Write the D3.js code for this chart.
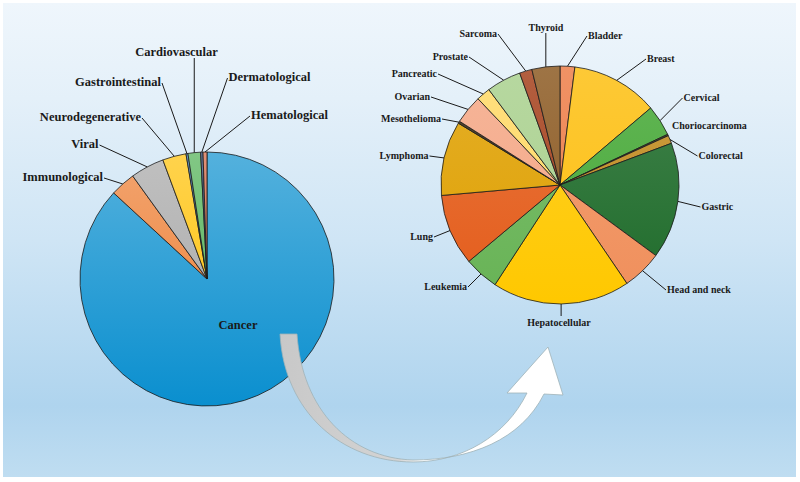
<!DOCTYPE html>
<html>
<head>
<meta charset="utf-8">
<title>Disease pies</title>
<script src="https://cdn.jsdelivr.net/npm/d3@7"></script>
<style>
  body { margin: 0; background: #fff; }
  text { font-family: "Liberation Serif", "DejaVu Serif", serif; font-weight: bold; fill: #1a1a1a; }
</style>
</head>
<body>
<svg width="800" height="482"></svg>
<script>
// left pie: disease areas
var leftNames = ["Cancer", "Immunological", "Viral", "Neurodegenerative", "Gastrointestinal",
                 "Cardiovascular", "Dermatological", "Hematological"];
var leftValues = [86.9, 3.2, 4.3, 3.0, 0.25, 1.6, 0.3, 0.5];
var leftColors = ["#0a8fcf", "#ed7d31", "#a5a5a5", "#ffc000", "#2e75b6", "#4caf50", "#264478", "#d2603a"];

// right pie: cancer types
var rightNames = ["Bladder", "Breast", "Cervical", "Choriocarcinoma", "Colorectal", "Gastric",
                  "Head and neck", "Hepatocellular", "Leukemia", "Lung", "Lymphoma", "Mesothelioma",
                  "Ovarian", "Pancreatic", "Prostate", "Sarcoma", "Thyroid"];
var rightValues = [2.0, 11.8, 4.2, 0.2, 1.1, 15.8, 5.4, 18.7, 4.7, 9.7, 10.1, 0.3, 3.9, 1.9, 4.7, 1.7, 3.8];
var rightColors = ["#ed7d48", "#fdbf10", "#45a836", "#3b3b1a", "#c08a1e", "#1e6b2a", "#f08f5b",
                   "#ffc800", "#67b355", "#e45c1a", "#dfa000", "#3a2a10", "#f4a785", "#ffd966",
                   "#a9d08e", "#a5401c", "#8c5a22"];

// label layout (offset from pie centre, text anchor)
var leftLabelPos = [[31,50,"inside"], [-104,-98,"end"], [-108.5,-131,"end"], [-66,-158,"end"],
                    [-46,-193,"end"], [-30.5,-223,"middle"], [21.5,-198,"start"], [44,-160,"start"]];
var rightLabelPos = [[28,-146,"start"], [87,-123,"start"], [123.5,-84,"start"], [112,-56,"none"],
                     [138.5,-26,"start"], [141.5,25,"start"], [107,108,"start"], [-1,141,"middle"],
                     [-93,105,"end"], [-127,55,"end"], [-131.5,-26,"end"], [-119,-63,"end"],
                     [-130,-85,"end"], [-123,-108,"end"], [-92,-125,"end"], [-63,-148,"end"],
                     [-14,-154,"middle"]];

var svg = d3.select("svg"),
    W = +svg.attr("width"), H = +svg.attr("height");
var defs = svg.append("defs");

// background panel
var bg = defs.append("linearGradient").attr("id","bg")
    .attr("x1",0).attr("y1",0).attr("x2",0).attr("y2",1);
[[0,"#eff6fc"],[0.2,"#e4f0f9"],[0.5,"#cfe5f5"],[0.85,"#afd4ee"],[1,"#bfddf1"]].forEach(s=>{
  bg.append("stop").attr("offset",s[0]).attr("stop-color",s[1]);
});
svg.append("rect").attr("width",W).attr("height",H).attr("fill","#fff");
svg.append("rect").attr("x",3).attr("y",3).attr("width",W-7).attr("height",H-8).attr("fill","url(#bg)");

function drawPie(id, cx, cy, r, names, values, colors, layout, fontSize, tint){
  var data = names.map((n,i)=>({name:n, v:values[i], color:colors[i], pos:layout[i]}));
  var pie = d3.pie().sort(null).value(d=>d.v);
  var arc = d3.arc().innerRadius(0).outerRadius(r);
  var edge = d3.arc().innerRadius(r).outerRadius(r);
  var g = svg.append("g").attr("transform",`translate(${cx},${cy})`);

  var arcs = pie(data);
  arcs.forEach((a,i)=>{
    var gr = defs.append("linearGradient").attr("id",id+i)
      .attr("gradientUnits","userSpaceOnUse")
      .attr("x1",0).attr("y1",-r).attr("x2",0).attr("y2",r);
    gr.append("stop").attr("offset",0).attr("stop-color",d3.interpolateRgb(a.data.color,"#fff")(tint));
    gr.append("stop").attr("offset",1).attr("stop-color",a.data.color);
  });

  g.selectAll("path.slice").data(arcs).enter().append("path")
    .attr("class","slice")
    .attr("d",arc)
    .attr("fill",(d,i)=>`url(#${id}${i})`)
    .attr("stroke","#1a1a1a")
    .attr("stroke-width",0.8)
    .attr("stroke-linejoin","round");

  arcs.forEach(a=>{
    var p = a.data.pos, c = edge.centroid(a), end = null;
    if(p[2]==="end") end = [p[0]+1, p[1]-3];
    else if(p[2]==="start") end = [p[0]-1, p[1]-3];
    else if(p[2]==="middle") end = [c[0], p[1] < 0 ? p[1]+2 : p[1]-fontSize];
    if(end){
      g.append("line")
        .attr("x1",c[0]).attr("y1",c[1]).attr("x2",end[0]).attr("y2",end[1])
        .attr("stroke","#1a1a1a").attr("stroke-width",1);
    }
    g.append("text")
      .attr("x",p[0]).attr("y",p[1])
      .attr("font-family","Liberation Serif, DejaVu Serif, serif")
      .attr("text-anchor", p[2]==="end" ? "end" : (p[2]==="middle"||p[2]==="inside") ? "middle" : "start")
      .style("font-size",fontSize+"px")
      .text(a.data.name);
  });
}

drawPie("L", 207, 279, 127, leftNames, leftValues, leftColors, leftLabelPos, 12.5, 0.3);
drawPie("R", 560, 185, 119, rightNames, rightValues, rightColors, rightLabelPos, 10, 0.16);

// curved arrow from the cancer slice to the cancer-type pie
var ag = defs.append("linearGradient").attr("id","arrowFill")
    .attr("gradientUnits","userSpaceOnUse")
    .attr("x1",280).attr("y1",0).attr("x2",565).attr("y2",0);
ag.append("stop").attr("offset",0).attr("stop-color","#c8c8c8");
ag.append("stop").attr("offset",0.42).attr("stop-color","#d4d4d4");
ag.append("stop").attr("offset",0.5).attr("stop-color","#ffffff");
ag.append("stop").attr("offset",1).attr("stop-color","#ffffff");

var ap = d3.path();
ap.moveTo(280,334);
ap.bezierCurveTo(284,412,342,462,413,462);
ap.bezierCurveTo(462,462,506,436,527,393);
ap.lineTo(507,393);
ap.lineTo(548,347);
ap.lineTo(563,395);
ap.lineTo(544,394);
ap.bezierCurveTo(521,440,470,460,413,460);
ap.bezierCurveTo(350,458,302,410,297,334);
ap.closePath();
svg.append("path").attr("d",ap.toString())
  .attr("fill","url(#arrowFill)")
  .attr("stroke","#9fb3b8").attr("stroke-width",0.8);
</script>
</body>
</html>
